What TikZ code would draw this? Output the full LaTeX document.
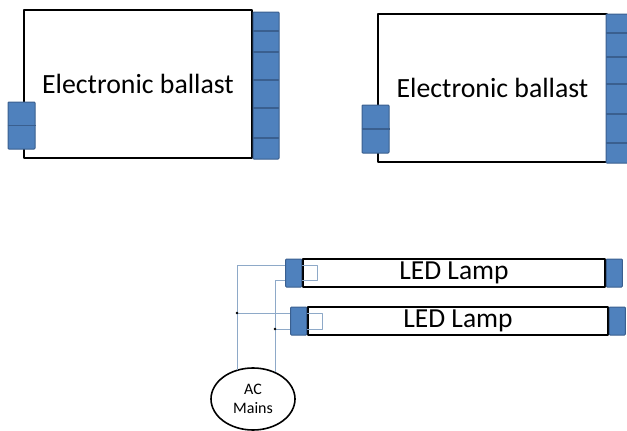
\documentclass[tikz,border=0pt]{standalone}
\usepackage{fontspec}
\setmainfont{Carlito}
\usetikzlibrary{positioning,shapes.geometric}
\definecolor{pinblue}{HTML}{4F81BD}
\definecolor{pinedge}{HTML}{3A5F8F}
\definecolor{wireblue}{HTML}{8EA9C8}
\tikzset{
  ballast/.style={draw=black, line width=1.6pt, fill=white, font=\fontsize{27.8}{30}\selectfont},
  lamp/.style={draw=black, line width=1.6pt, font=\fontsize{27.5}{30}\selectfont, inner sep=0pt},
  pinbox/.style={draw=pinedge, fill=pinblue, line width=1pt, rounded corners=0.8pt, inner sep=0pt},
  wire/.style={draw=wireblue, line width=0.9pt},
  mains/.style={ellipse, draw=black, line width=1.6pt, fill=white, align=center, font=\fontsize{16}{19}\selectfont}
}
\begin{document}
\begin{tikzpicture}[x=1pt, y=-1pt, line join=round]
	\useasboundingbox (0,0) rectangle (627,431);
	% ballasts
	\node[ballast, minimum width=228pt, minimum height=148pt] (b1) at (138,84) {Electronic ballast};
	\node[ballast, minimum width=229pt, minimum height=148pt] (b2) at (492.5,88) {Electronic ballast};
	\path (253,12) coordinate (r1t) (279,159) coordinate (r1b)
	      (606,14) coordinate (r2t) (640,163) coordinate (r2b);
	\draw[pinbox] (r1t) rectangle (r1b);
	\foreach \y in {31,52,80,108,138} \draw[pinedge, line width=1.2pt] (253,\y) -- (279,\y);
	\draw[pinbox] (r2t) rectangle (r2b);
	\foreach \y in {33,57,84,114,143} \draw[pinedge, line width=1.2pt] (606,\y) -- (640,\y);
	\node[pinbox, minimum width=27pt, minimum height=47pt] (m1) at (21.5,125.5) {};
	\draw[pinedge, line width=1.2pt] (m1.west) -- (m1.east);
	\node[pinbox, minimum width=27pt, minimum height=48pt] (m2) at (375.5,129) {};
	\draw[pinedge, line width=1.2pt] (m2.west) -- (m2.east);
	% lamps
	\node[lamp, minimum width=302pt, minimum height=28pt] (l1) at (454,273) {LED Lamp};
	\node[lamp, minimum width=300pt, minimum height=28pt] (l2) at (458,321) {LED Lamp};
	% wiring
	\node[mains, minimum width=84pt, minimum height=62pt] (ac) at (253,399) {AC\\Mains};
	\path (237,370) coordinate (wa) (275,372) coordinate (wb)
	      (317,265) coordinate (f1) (317,280) coordinate (g1)
	      (322,313) coordinate (f2) (322,329) coordinate (g2);
	\draw[wire] (wa) |- (f1) -- (g1) -| (wb);
	\draw[wire] (wa |- f2) -- (f2) -- (g2) -- (wb |- g2);
	\fill (wa |- f2) circle (1.4);
	\fill (wb |- g2) circle (1.4);
	\foreach \l in {l1,l2} {
			\node[pinbox, minimum width=16pt, minimum height=28pt, anchor=east] at (\l.west) {};
			\node[pinbox, minimum width=16pt, minimum height=28pt, anchor=west] at (\l.east) {};
		}
\end{tikzpicture}
\end{document}
